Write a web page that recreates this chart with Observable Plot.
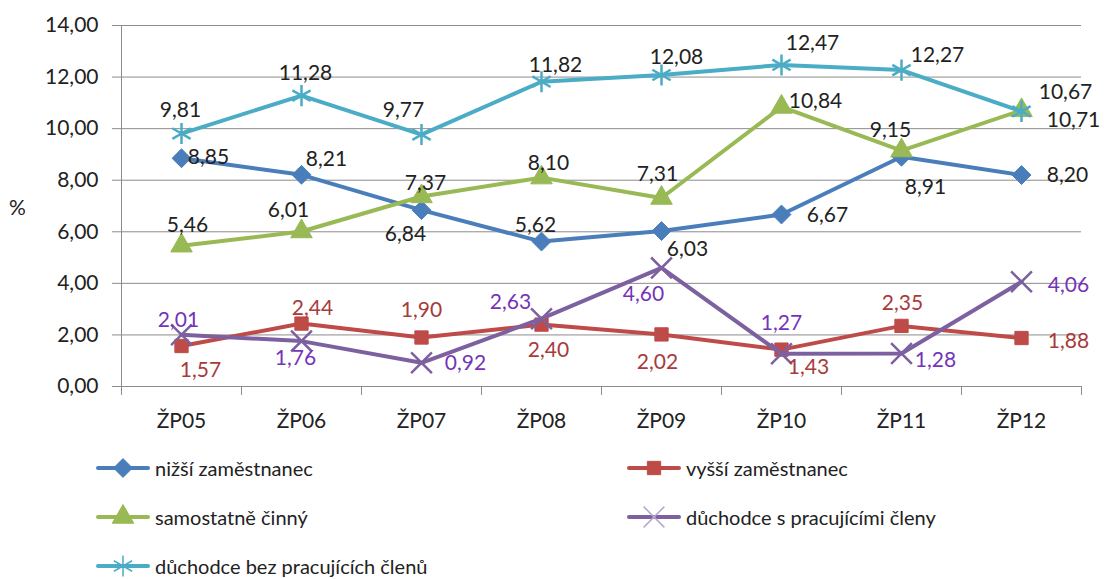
<!DOCTYPE html>
<html><head><meta charset="utf-8">
<script src="https://cdn.jsdelivr.net/npm/d3@7"></script>
<script src="https://cdn.jsdelivr.net/npm/@observablehq/plot@0.6"></script>
<style>
body{margin:0;background:#fff;font-family:Lato,"Open Sans",sans-serif;}
#wrap{position:relative;width:1104px;height:579px;overflow:hidden;}
#chart svg{display:block;}
#pct{position:absolute;left:9px;top:194px;font-size:21px;color:#222;}
#legend{display:grid;grid-template-columns:531px 440px;grid-auto-rows:49px;padding-left:97px;margin-top:-1px;}
.item{display:flex;align-items:center;font-size:20px;line-height:22px;color:#222;white-space:nowrap;}
.item svg{margin-right:6px;overflow:visible;}
</style></head><body>
<div id="wrap"><div id="chart"></div><div id="pct">%</div><div id="legend"></div></div>
<script>
const categories = ["ŽP05","ŽP06","ŽP07","ŽP08","ŽP09","ŽP10","ŽP11","ŽP12"];
const nizsiZamestnanec = [8.85, 8.21, 6.84, 5.62, 6.03, 6.67, 8.91, 8.20];
const vyssiZamestnanec = [1.57, 2.44, 1.90, 2.40, 2.02, 1.43, 2.35, 1.88];
const samostatneCinny = [5.46, 6.01, 7.37, 8.10, 7.31, 10.84, 9.15, 10.71];
const duchodceS = [2.01, 1.76, 0.92, 2.63, 4.60, 1.27, 1.28, 4.06];
const duchodceBez = [9.81, 11.28, 9.77, 11.82, 12.08, 12.47, 12.27, 10.67];
const seriesNames = ["nižší zaměstnanec","vyšší zaměstnanec","samostatně činný","důchodce s pracujícími členy","důchodce bez pracujících členů"];
const yTicks = [0, 2, 4, 6, 8, 10, 12, 14];

// styles (kept apart from the values)
const seriesValues = [nizsiZamestnanec, vyssiZamestnanec, samostatneCinny, duchodceS, duchodceBez];
const seriesColors = ["#4A7EBB","#BE4B48","#98B954","#7D60A0","#4BACC6"];
const labelColors = ["#222","#A83A3A","#222","#7434B8","#222"];
const seriesSymbols = ["diamond2","square","triangle","times","asterisk"];
const symbolR = [8.5, 7.5, 8, 9.5, 10];
const labelOffsets = [
  [[27,-1],[25,-16],[-16,24],[-6,-16],[26,18],[46,1],[24,31],[46,0]],
  [[19,24],[11,-15],[0,-27],[7,26],[-4,28],[27,18],[1,-23],[47,3]],
  [[6,-20],[-13,-21],[4,-13],[7,-14],[-4,-24],[34,-6],[-11,-20],[52,10]],
  [[-3,-14],[-6,17],[44,0],[-31,-16],[-18,26],[0,-30],[34,7],[47,3]],
  [[-1,-23],[4,-22],[-18,-24],[14,-16],[15,-18],[31,-22],[36,-15],[44,-19]]
];

const fmt = v => v.toFixed(2).replace(".", ",");
const idx = d3.range(categories.length);
const grid = "#8c8c8c";
const FS = 21;

const marks = [
  Plot.gridY(yTicks, {stroke: grid, strokeOpacity: 1}),
  Plot.ruleX([-0.5], {stroke: grid}),
  Plot.ruleY([0], {stroke: grid}),
  Plot.axisY(yTicks, {tickSize: 9, tickPadding: 14, stroke: grid, fill: "#222", fontSize: FS, tickFormat: fmt, label: null}),
  Plot.axisX(d3.range(-0.5, categories.length, 1), {tickSize: 9, stroke: grid, tickFormat: () => "", label: null}),
  Plot.axisX(idx, {tickSize: 0, tickPadding: 27, fill: "#222", fontSize: FS, tickFormat: i => categories[i], label: null})
];

seriesValues.forEach((vals, s) => {
  const isStroke = seriesSymbols[s] === "times" || seriesSymbols[s] === "asterisk";
  marks.push(Plot.line(idx, {x: i => i, y: i => vals[i], stroke: seriesColors[s], strokeWidth: 4, strokeLinejoin: "round", strokeLinecap: "round"}));
  marks.push(Plot.dot(idx, {x: i => i, y: i => vals[i], symbol: seriesSymbols[s], r: symbolR[s],
    fill: isStroke ? "none" : seriesColors[s], stroke: seriesColors[s], strokeWidth: isStroke ? 2.5 : 1}));
});
seriesValues.forEach((vals, s) => {
  idx.forEach(i => {
    marks.push(Plot.text([i], {x: i => i, y: i => vals[i], text: i => fmt(vals[i]),
      dx: labelOffsets[s][i][0], dy: labelOffsets[s][i][1], fill: labelColors[s], fontSize: FS}));
  });
});

const chart = Plot.plot({
  width: 1104, height: 444,
  marginLeft: 121, marginRight: 23, marginTop: 25, marginBottom: 58,
  style: {fontFamily: "Lato, 'Open Sans', sans-serif", background: "#fff", color: "#222"},
  x: {type: "linear", domain: [-0.5, categories.length - 0.5]},
  y: {domain: [0, 14]},
  marks
});
document.getElementById("chart").append(chart);

// legend
const legend = document.getElementById("legend");
const symMap = {diamond2: d3.symbolDiamond2, square: d3.symbolSquare, triangle: d3.symbolTriangle, times: d3.symbolTimes, asterisk: d3.symbolAsterisk};
seriesNames.forEach((name, s) => {
  const item = document.createElement("div");
  item.className = "item";
  const sw = d3.create("svg").attr("width", 52).attr("height", 20);
  sw.append("line").attr("x1", 1).attr("x2", 51).attr("y1", 10).attr("y2", 10)
    .attr("stroke", seriesColors[s]).attr("stroke-width", 4).attr("stroke-linecap", "round");
  const isStroke = seriesSymbols[s] === "times" || seriesSymbols[s] === "asterisk";
  const r = symbolR[s];
  sw.append("path").attr("transform", "translate(26,10)")
    .attr("d", d3.symbol(symMap[seriesSymbols[s]], Math.PI * r * r)())
    .attr("fill", isStroke ? "none" : seriesColors[s])
    .attr("stroke", isStroke ? (s === 3 ? "#b7a6d0" : seriesColors[s]) : seriesColors[s])
    .attr("stroke-width", isStroke ? 1.5 : 1);
  item.append(sw.node());
  const t = document.createElement("span");
  t.textContent = name;
  item.append(t);
  legend.append(item);
});
</script>
</body></html>
